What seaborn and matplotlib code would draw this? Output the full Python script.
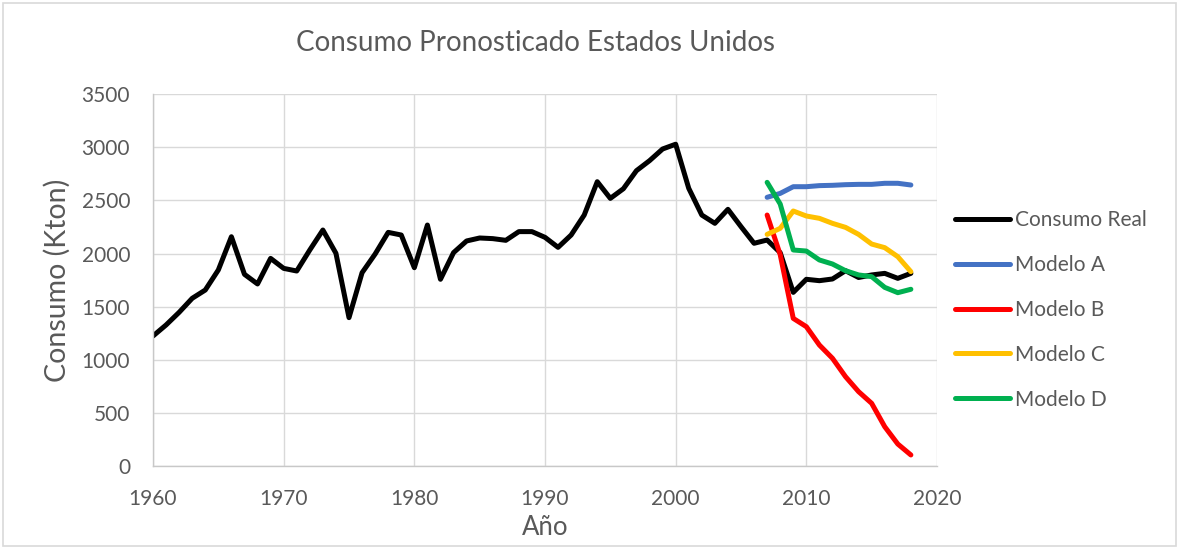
import matplotlib
matplotlib.use("Agg")
import matplotlib.pyplot as plt
import seaborn as sns
import pandas as pd
from matplotlib.patches import Rectangle

# Consumo real 1960-2018 (Kton)
anios_real = list(range(1960, 2019))
consumo_real = [1224, 1328, 1447, 1579, 1657, 1846, 2159, 1805, 1714, 1955,
                1861, 1836, 2034, 2222, 2003, 1397, 1820, 1996, 2200, 2175,
                1867, 2269, 1758, 2009, 2119, 2147, 2141, 2125, 2207, 2207,
                2153, 2059, 2175, 2363, 2677, 2520, 2611, 2781, 2875, 2985,
                3030, 2615, 2363, 2285, 2417, 2254, 2097, 2128, 2009, 1635,
                1758, 1745, 1761, 1839, 1775, 1799, 1814, 1767, 1814]

# Pronósticos 2007-2018
anios_modelo = list(range(2007, 2019))
modelo_a = [2530, 2567, 2630, 2630, 2640, 2643, 2649, 2652, 2652, 2662, 2662, 2646]
modelo_b = [2363, 1990, 1390, 1312, 1139, 1014, 841, 700, 590, 370, 207, 104]
modelo_c = [2181, 2238, 2401, 2354, 2332, 2285, 2247, 2181, 2090, 2056, 1971, 1830]
modelo_d = [2671, 2467, 2034, 2024, 1940, 1902, 1839, 1799, 1783, 1682, 1632, 1664]

series = ["Consumo Real", "Modelo A", "Modelo B", "Modelo C", "Modelo D"]
colores = ["#000000", "#4472C4", "#FF0000", "#FFC000", "#00B050"]

frames = [pd.DataFrame({"Año": anios_real, "Consumo": consumo_real, "Serie": series[0]})]
for nombre, valores in zip(series[1:], [modelo_a, modelo_b, modelo_c, modelo_d]):
    frames.append(pd.DataFrame({"Año": anios_modelo, "Consumo": valores, "Serie": nombre}))
df = pd.concat(frames, ignore_index=True)

sns.set_theme(style="white")
plt.rcParams["font.family"] = ["Lato", "DejaVu Sans"]
plt.rcParams["lines.solid_joinstyle"] = "round"
plt.rcParams["lines.solid_capstyle"] = "round"

gris_texto = "#595959"
gris_linea = "#d9d9d9"

fig = plt.figure(figsize=(11.8, 5.49), dpi=100)
ax = fig.add_axes([153 / 1180, 1 - 466 / 549, (937 - 153) / 1180, (466 - 94.3) / 549])

sns.lineplot(data=df, x="Año", y="Consumo", hue="Serie", hue_order=series,
             palette=dict(zip(series, colores)), linewidth=3.6, ax=ax,
             legend=True)

ax.set_xlim(1960, 2020)
ax.set_ylim(0, 3500)
ax.set_xticks(range(1960, 2021, 10))
ax.set_yticks(range(0, 3501, 500))
ax.grid(True, color=gris_linea, linewidth=1.0)
ax.set_axisbelow(True)
for lado in ["top", "right"]:
    ax.spines[lado].set_visible(False)
for lado in ["left", "bottom"]:
    ax.spines[lado].set_color("#c8c8c8")
    ax.spines[lado].set_linewidth(1.0)
ax.tick_params(axis="both", length=0, pad=16.5, labelsize=15, labelcolor=gris_texto)
ax.set_xlabel("")
ax.set_ylabel("")

leg = ax.legend(loc="center left", bbox_to_anchor=(955 / 1180, 1 - 310 / 549),
                bbox_transform=fig.transFigure, frameon=False, fontsize=15,
                handlelength=2.64, handletextpad=0.25, labelspacing=1.19,
                borderpad=0, borderaxespad=0)
for t in leg.get_texts():
    t.set_color(gris_texto)

fig.text(535 / 1180, 1 - 51 / 549, "Consumo Pronosticado Estados Unidos",
         ha="center", va="baseline", fontsize=20, color=gris_texto)
fig.text(57 / 1180, 1 - 280 / 549, "Consumo (Kton)", rotation=90,
         ha="center", va="center", fontsize=20.5, color=gris_texto)
fig.text(545 / 1180, 1 - 535 / 549, "Año", ha="center", va="baseline",
         fontsize=18.5, color=gris_texto)

fig.patches.append(Rectangle((3 / 1180, 3 / 549), 1173 / 1180, 543 / 549,
                             transform=fig.transFigure, fill=False,
                             edgecolor=gris_linea, linewidth=1.2))

fig.savefig("out.png", dpi=100)
